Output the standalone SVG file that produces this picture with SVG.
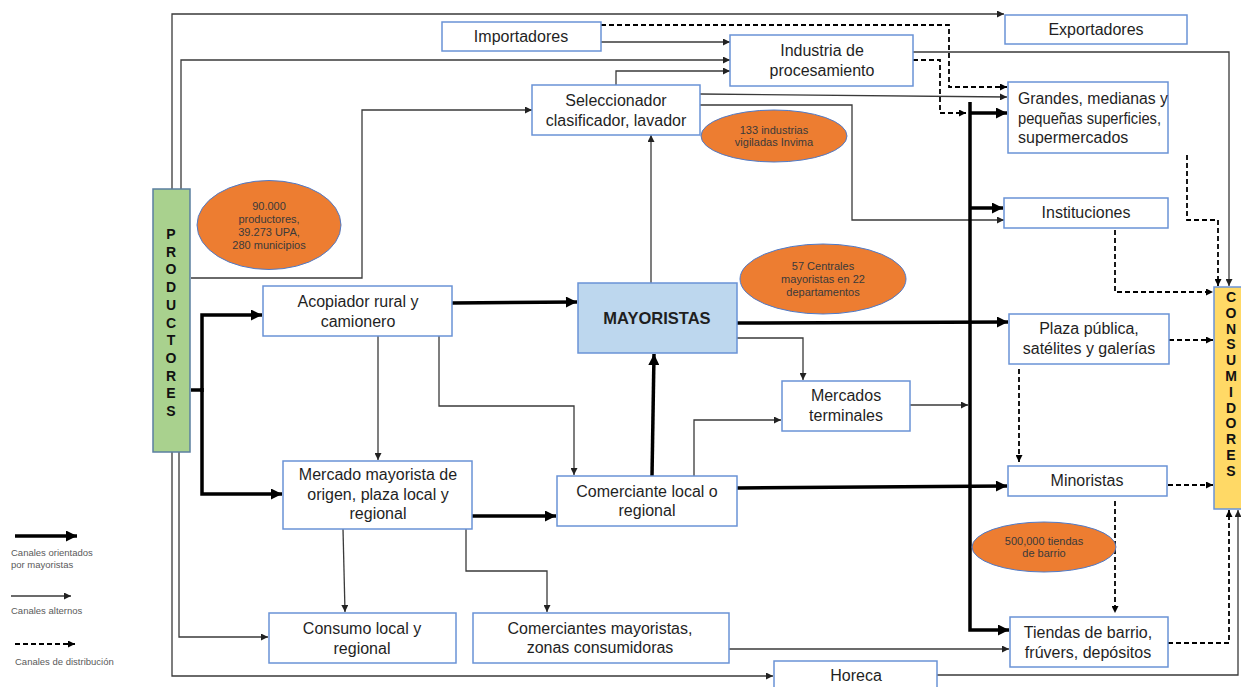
<svg xmlns="http://www.w3.org/2000/svg" width="1241" height="687" viewBox="0 0 1241 687">
<style>
.n{fill:#fff;stroke:#6a93d6;stroke-width:1.5}
.t{font-family:"Liberation Sans",Arial,sans-serif;font-size:16px;fill:#1f1f1f;text-anchor:middle}
.tl{text-anchor:start}
.b{font-weight:bold;font-size:16.5px}
.v{font-family:"Liberation Sans",Arial,sans-serif;font-size:14px;font-weight:bold;fill:#111;text-anchor:middle}
.el{fill:#ed7d31;stroke:#4f7ac8;stroke-width:1}
.et{font-family:"Liberation Sans",Arial,sans-serif;font-size:11px;fill:#3a3a3a;text-anchor:middle}
.lg{font-family:"Liberation Sans",Arial,sans-serif;font-size:9.5px;fill:#5a5a5a}
.c{fill:none;stroke:#3a3a3a;stroke-width:1.3;marker-end:url(#ar)}
.k{fill:none;stroke:#000;stroke-width:3.5;marker-end:url(#ak)}
.kn{fill:none;stroke:#000;stroke-width:3.5}
.d{fill:none;stroke:#000;stroke-width:1.8;stroke-dasharray:5 3;marker-end:url(#ad)}
</style>
<defs>
<marker id="ar" viewBox="0 0 10 10" refX="10" refY="5" markerWidth="8" markerHeight="7" markerUnits="userSpaceOnUse" orient="auto"><path d="M0,0L10,5L0,10z" fill="#222"/></marker>
<marker id="ak" viewBox="0 0 10 10" refX="10" refY="5" markerWidth="13" markerHeight="11" markerUnits="userSpaceOnUse" orient="auto"><path d="M0,0L10,5L0,10z" fill="#000"/></marker>
<marker id="ad" viewBox="0 0 10 10" refX="10" refY="5" markerWidth="8" markerHeight="7" markerUnits="userSpaceOnUse" orient="auto"><path d="M0,0L10,5L0,10z" fill="#000"/></marker>
</defs>
<rect width="1241" height="687" fill="#fff"/>

<g id="connectors">
<path class="c" d="M172,189V14H1004"/>
<path class="c" d="M181,189V60H730"/>
<path class="c" d="M601,42H730"/>
<path class="c" d="M616,85V71H730"/>
<path class="c" d="M700,94L1007,97"/>
<path class="c" d="M700,105H852V220H1004"/>
<path class="c" d="M913,52H1229V286"/>
<path class="c" d="M191,278H362V110H532"/>
<path class="c" d="M651,283V135"/>
<path class="c" d="M737,338H803V380"/>
<path class="c" d="M910,405H968"/>
<path class="c" d="M694,476V420H781"/>
<path class="c" d="M378,336V460"/>
<path class="c" d="M439,336V406H574V475"/>
<path class="c" d="M343,529L345,612"/>
<path class="c" d="M466,529V571H547V612"/>
<path class="c" d="M179,452V637H268"/>
<path class="c" d="M172,452V676H773"/>
<path class="c" d="M729,649H1009"/>
<path class="c" d="M937,675H1238V510"/>

<path class="kn" d="M191,390H202"/>
<path class="k" d="M202,392V315H262"/>
<path class="k" d="M202,388V494H282"/>
<path class="k" d="M452,303L577,302"/>
<path class="k" d="M737,323L1008,322"/>
<path class="k" d="M652,476L654,354"/>
<path class="k" d="M737,488L1007,486"/>
<path class="k" d="M472,516H556"/>
<path class="k" d="M970,102V630H1009"/>
<path class="k" d="M970,113H1007"/>
<path class="k" d="M970,208H1003"/>

<path class="d" d="M601,25H949V87H1007"/>
<path class="d" d="M913,60H940V113H966"/>
<path class="d" d="M1187,155V220H1218V286"/>
<path class="d" d="M1115,230V292H1213"/>
<path class="d" d="M1169,340H1213"/>
<path class="d" d="M1019,369V462"/>
<path class="d" d="M1168,485H1213"/>
<path class="d" d="M1115,501V613"/>
<path class="d" d="M1168,643H1229V510"/>
</g>

<g id="productores">
<rect x="153" y="189" width="37" height="263" fill="#a9d18e" stroke="#5b7fa0" stroke-width="1.5"/>
<text class="v"><tspan x="171" y="239">P</tspan><tspan x="171" dy="17.7">R</tspan><tspan x="171" dy="17.7">O</tspan><tspan x="171" dy="17.7">D</tspan><tspan x="171" dy="17.7">U</tspan><tspan x="171" dy="17.7">C</tspan><tspan x="171" dy="17.7">T</tspan><tspan x="171" dy="17.7">O</tspan><tspan x="171" dy="17.7">R</tspan><tspan x="171" dy="17.7">E</tspan><tspan x="171" dy="17.7">S</tspan></text>
</g>

<g id="consumidores">
<rect x="1214" y="287" width="32" height="222" fill="#ffd966" stroke="#6a93d6" stroke-width="1.5"/>
<text class="v"><tspan x="1231" y="302">C</tspan><tspan x="1231" dy="15.8">O</tspan><tspan x="1231" dy="15.8">N</tspan><tspan x="1231" dy="15.8">S</tspan><tspan x="1231" dy="15.8">U</tspan><tspan x="1231" dy="15.8">M</tspan><tspan x="1231" dy="15.8">I</tspan><tspan x="1231" dy="15.8">D</tspan><tspan x="1231" dy="15.8">O</tspan><tspan x="1231" dy="15.8">R</tspan><tspan x="1231" dy="15.8">E</tspan><tspan x="1231" dy="15.8">S</tspan></text>
</g>

<g id="importadores"><rect class="n" x="442" y="22" width="159" height="29"/><text class="t" x="521" y="42">Importadores</text></g>
<g id="exportadores"><rect class="n" x="1005" y="15" width="182" height="29"/><text class="t" x="1096" y="35">Exportadores</text></g>
<g id="industria"><rect class="n" x="730" y="35" width="183" height="51"/><text class="t" x="822" y="56">Industria de</text><text class="t" x="822" y="76">procesamiento</text></g>
<g id="seleccionador"><rect class="n" x="532" y="85" width="168" height="50"/><text class="t" x="616" y="106">Seleccionador</text><text class="t" x="616" y="126">clasificador, lavador</text></g>
<g id="grandes"><rect class="n" x="1008" y="82" width="160" height="71"/><text class="t tl" x="1018" y="104" textLength="150" lengthAdjust="spacingAndGlyphs">Grandes, medianas y</text><text class="t tl" x="1018" y="124" textLength="143" lengthAdjust="spacingAndGlyphs">pequeñas superficies,</text><text class="t tl" x="1018" y="143">supermercados</text></g>
<g id="instituciones"><rect class="n" x="1004" y="198" width="164" height="30"/><text class="t" x="1086" y="218">Instituciones</text></g>
<g id="acopiador"><rect class="n" x="263" y="286" width="189" height="50"/><text class="t" x="358" y="307">Acopiador rural y</text><text class="t" x="358" y="327">camionero</text></g>
<g id="mayoristas"><rect x="578" y="283" width="159" height="70" fill="#bdd7ee" stroke="#6a93d6" stroke-width="1.5"/><text class="t b" x="657" y="324">MAYORISTAS</text></g>
<g id="plaza"><rect class="n" x="1009" y="314" width="160" height="50"/><text class="t" x="1089" y="334">Plaza pública,</text><text class="t" x="1089" y="354">satélites y galerías</text></g>
<g id="mercados-terminales"><rect class="n" x="782" y="381" width="128" height="50"/><text class="t" x="846" y="401">Mercados</text><text class="t" x="846" y="421">terminales</text></g>
<g id="minoristas"><rect class="n" x="1008" y="466" width="159" height="30"/><text class="t" x="1087" y="486">Minoristas</text></g>
<g id="mercado-mayorista"><rect class="n" x="283" y="461" width="189" height="68"/><text class="t" x="378" y="480">Mercado mayorista de</text><text class="t" x="378" y="500">origen, plaza local y</text><text class="t" x="378" y="519">regional</text></g>
<g id="comerciante-local"><rect class="n" x="557" y="476" width="180" height="50"/><text class="t" x="647" y="497">Comerciante local o</text><text class="t" x="647" y="516">regional</text></g>
<g id="consumo-local"><rect class="n" x="269" y="613" width="187" height="50"/><text class="t" x="362" y="634">Consumo local y</text><text class="t" x="362" y="654">regional</text></g>
<g id="comerciantes-mayoristas"><rect class="n" x="473" y="613" width="256" height="50"/><text class="t" x="600" y="634">Comerciantes mayoristas,</text><text class="t" x="600" y="653">zonas consumidoras</text></g>
<g id="tiendas"><rect class="n" x="1010" y="617" width="158" height="50"/><text class="t" x="1088" y="638">Tiendas de barrio,</text><text class="t" x="1088" y="658">frúvers, depósitos</text></g>
<g id="horeca"><rect class="n" x="774" y="661" width="163" height="36"/><text class="t" x="856" y="681">Horeca</text></g>

<g id="nota-productores"><ellipse class="el" cx="269" cy="225" rx="72" ry="44.5"/><text class="et" x="269" y="210">90.000</text><text class="et" x="269" y="223">productores,</text><text class="et" x="269" y="236">39.273 UPA,</text><text class="et" x="269" y="249">280 municipios</text></g>
<g id="nota-industrias"><ellipse class="el" cx="774" cy="136" rx="73" ry="26"/><text class="et" x="774" y="134">133 industrias</text><text class="et" x="774" y="146">vigiladas  Invima</text></g>
<g id="nota-centrales"><ellipse class="el" cx="823" cy="279" rx="83" ry="35"/><text class="et" x="823" y="270">57 Centrales</text><text class="et" x="823" y="283">mayoristas en 22</text><text class="et" x="823" y="296">departamentos</text></g>
<g id="nota-tiendas"><ellipse class="el" cx="1044" cy="547" rx="72" ry="25"/><text class="et" x="1044" y="545">500,000 tiendas</text><text class="et" x="1044" y="557">de barrio</text></g>

<g id="legend">
<path class="k" d="M15,536H77"/>
<text class="lg" x="11" y="556">Canales orientados</text>
<text class="lg" x="11" y="568">por mayoristas</text>
<path class="c" d="M11,596H71"/>
<text class="lg" x="11" y="614">Canales alternos</text>
<path class="d" d="M15,644H75"/>
<text class="lg" x="15" y="665">Canales de distribución</text>
</g>
</svg>
